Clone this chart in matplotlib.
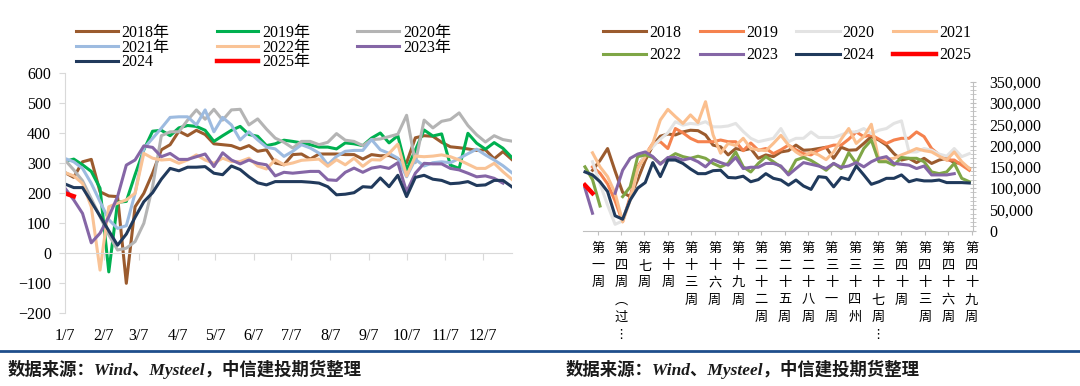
import matplotlib
matplotlib.use("Agg")
import matplotlib.pyplot as plt
from matplotlib.lines import Line2D
from matplotlib.ticker import MultipleLocator, FuncFormatter
import numpy as np
import pandas as pd

nan = np.nan
plt.rcParams['font.family'] = ['Liberation Serif', 'Noto Sans CJK SC', 'DejaVu Sans']

# ---- left chart: weekly values, one list per year ----
left_years = ['2018年', '2019年', '2020年', '2021年', '2022年', '2023年', '2024', '2025年']
left_colors = ['#9b5b2e', '#00b050', '#b4b4b4', '#9dbbe0', '#f9c396', '#8566a6', '#213a5c', '#ff0000']

L2018 = [267, 251, 303, 311, 203, 189, 187, -102, 153, 198, 265, 343, 360, 405, 390, 408, 394, 363, 360, 357,
         346, 357, 338, 343, 299, 293, 327, 329, 312, 329, 329, 329, 327, 327, 312, 327, 323, 324, 312, 300,
         383, 390, 388, 368, 353, 350, 346, 341, 343, 313, 337, 311]
L2019 = [304, 312, 293, 271, 215, -64, 168, 171, 260, 343, 405, 408, 390, 416, 424, 421, 408, 371, 390, 408,
         421, 394, 388, 357, 363, 375, 371, 366, 360, 352, 352, 346, 366, 363, 357, 382, 399, 366, 390, 276,
         342, 409, 389, 396, 292, 281, 398, 365, 345, 367, 348, 318]
L2020 = [309, 276, 240, 180, 120, 60, 9, 15, 37, 98, 220, 390, 403, 403, 442, 476, 445, 478, 442, 476,
         478, 426, 446, 412, 382, 368, 349, 371, 371, 360, 368, 397, 375, 371, 357, 377, 379, 387, 395, 458,
         300, 442, 416, 438, 444, 466, 424, 393, 369, 390, 377, 372]
L2021 = [314, 303, 281, 231, 170, 110, 81, 90, 198, 348, 381, 415, 451, 453, 453, 426, 476, 403, 451, 426,
         376, 403, 376, 352, 346, 321, 338, 360, 349, 332, 293, 321, 338, 341, 341, 377, 343, 331, 315, 253,
         311, 289, 300, 303, 300, 314, 330, 345, 326, 309, 290, 267]
L2022 = [267, 256, 231, 153, -58, 153, 165, 176, 198, 331, 315, 309, 311, 298, 309, 326, 309, 298, 315, 304,
         304, 315, 289, 279, 310, 293, 299, 308, 310, 312, 288, 310, 293, 315, 288, 310, 309, 331, 362, 256,
         322, 320, 322, 326, 320, 309, 295, 281, 281, 298, 270, 245]
L2023 = [215, 176, 131, 33, 65, 120, 187, 292, 309, 356, 351, 320, 331, 311, 311, 320, 329, 287, 333, 309,
         296, 309, 298, 293, 256, 268, 265, 268, 271, 271, 243, 241, 268, 282, 268, 282, 287, 281, 300, 203,
         265, 298, 296, 296, 281, 276, 265, 253, 256, 248, 232, nan]
L2024 = [229, 217, 217, 170, 122, 73, 25, 62, 118, 170, 200, 245, 281, 273, 285, 285, 287, 265, 260, 289,
         277, 253, 233, 226, 237, 237, 237, 237, 235, 232, 220, 193, 195, 200, 220, 218, 249, 220, 258, 187,
         251, 258, 245, 241, 230, 232, 237, 224, 226, 241, 241, 220]
L2025 = [198, 188]
left_series = [L2018, L2019, L2020, L2021, L2022, L2023, L2024, L2025]

# ---- right chart: weekly values in thousands ----
right_years = ['2018', '2019', '2020', '2021', '2022', '2023', '2024', '2025']
right_colors = ['#9b5b2e', '#f5824e', '#e3e3e3', '#fbbf8e', '#7fa646', '#8566a6', '#203a5c', '#ff0000']

R2018 = [nan, 142, 165, 193, 140, 90, 80, 120, 165, 200, 222, 227, 225, 232, 236, 235, 225, 201, 197, 178,
         193, 189, 193, 170, 178, 174, 185, 188, 201, 189, 190, 193, 196, 170, 196, 189, 190, 205, 221, 213,
         201, 181, 166, 170, 160, 170, 158, 166, 170, 160, 158, 146]
R2019 = [nan, 150, 135, 110, 70, 21, 80, 150, 178, 205, 209, 193, 240, 230, 217, 209, 209, 209, 213, 209,
         209, 188, 206, 189, 193, 181, 190, 201, 190, 181, 178, 189, 196, 201, 201, 215, 232, 221, 225, 215,
         205, 213, 217, 217, 232, 221, 193, 178, 166, 166, 154, 142]
R2020 = [nan, 162, 110, 60, 15, 23, 72, 142, 182, 197, 215, 230, 256, 248, 252, 250, 256, 244, 244, 246,
         252, 233, 217, 209, 213, 217, 240, 209, 217, 217, 232, 219, 219, 219, 225, 232, 232, 240, 228, 236,
         240, 252, 258, 185, 185, 193, 189, 180, 175, 193, 174, 181]
R2021 = [nan, 183, 150, 127, 88, 21, 72, 146, 174, 205, 260, 285, 268, 252, 272, 254, 303, 225, 182, 205,
         200, 217, 193, 190, 188, 205, 224, 201, 185, 174, 185, 178, 167, 185, 215, 240, 205, 221, 250, 166,
         168, 170, 178, 185, 193, 188, 185, 175, 166, 185, 162, 146]
R2022 = [150, 120, 58, nan, nan, 80, 103, 174, 178, 172, 158, 170, 181, 174, 170, 175, 170, 158, 150, 158,
         185, 150, 138, 158, 174, 162, 150, 134, 166, 172, 165, 154, 142, 158, 146, 183, 158, 193, 213, 162,
         162, 154, 172, 170, 170, 162, 138, 134, 138, 158, 123, 115]
R2023 = [100, 41, nan, nan, 88, 142, 170, 180, 185, 174, 156, 172, 172, 166, 170, 162, 150, 167, 160, 154,
         172, 146, 149, 149, 158, 158, 152, 131, 146, 160, 156, 152, 146, 158, 149, 152, 160, 150, 162, 170,
         174, 158, 156, 154, 146, 152, 131, 131, 131, 134, nan, nan]
R2024 = [138, 131, 115, 92, 35, 27, 72, 100, 113, 160, 127, 166, 166, 158, 145, 134, 134, 141, 142, 125,
         124, 128, 115, 120, 134, 123, 119, 107, 119, 105, 97, 127, 125, 103, 125, 120, 152, 131, 109, 115,
         123, 123, 131, 115, 120, 117, 117, 119, 113, 113, 113, 112]
R2025 = [107, 88]
right_series = [R2018, R2019, R2020, R2021, R2022, R2023, R2024, R2025]

week_labels = ['第一周', '第四周︵过⋮', '第七周', '第十周', '第十三周', '第十六周', '第十九周',
               '第二十二周', '第二十五周', '第二十八周', '第三十一周', '第三十四州', '第三十七周⋮',
               '第四十周', '第四十三周', '第四十六周', '第四十九周']

for s in left_series[:-1] + right_series[:-1]:
    assert len(s) == 52, len(s)

month_days = [pd.Timestamp(2023, m, 7).dayofyear for m in range(1, 13)]
month_labels = [f'{m}/7' for m in range(1, 13)]
days = 7 + 7 * np.arange(52)
weeks = np.arange(52)

fig = plt.figure(figsize=(10.8, 3.86), dpi=100)
W, H = 1080, 386
grey = '#d9d9d9'
fs = 11.5
legfont = {'family': ['Liberation Serif', 'Noto Sans CJK SC'], 'size': fs}

# ---------------- left ----------------
ax1 = fig.add_axes([65 / W, 1 - 312.7 / H, 446.7 / W, 240 / H])
hl = []
for name, vals, c in zip(left_years, left_series, left_colors):
    lw = 3.2 if name.startswith('2025') else 2.2
    ln, = ax1.plot(days[:len(vals)], vals, color=c, lw=lw, label=name)
    hl.append(ln)
ax1.set_xlim(7, 364)
ax1.set_ylim(-200, 600)
ax1.set_yticks(range(-200, 601, 100))
for sp in ['top', 'right']:
    ax1.spines[sp].set_visible(False)
ax1.spines['left'].set_color(grey)
ax1.spines['bottom'].set_color(grey)
ax1.spines['bottom'].set_position(('data', 0))
ax1.tick_params(axis='y', length=4, color=grey, labelsize=fs, pad=6)
ax1.set_xticks(month_days)
ax1.tick_params(axis='x', length=5, color=grey, labelbottom=False)
sec = ax1.secondary_xaxis('bottom')
sec.set_xticks(month_days, labels=month_labels)
sec.tick_params(length=0, pad=11, labelsize=fs)
sec.spines['bottom'].set_visible(False)

order1 = [0, 3, 6, 1, 4, 7, 2, 5]
ax1.legend([hl[i] for i in order1], [left_years[i] for i in order1], ncol=3, loc='upper left',
           bbox_to_anchor=(76 / W, 1 - 25 / H), bbox_transform=fig.transFigure, frameon=False,
           prop=legfont, handlelength=2.6, handletextpad=0.25, columnspacing=2.95,
           labelspacing=-0.08, borderpad=0, borderaxespad=0)

# ---------------- right ----------------
ax2 = fig.add_axes([582.7 / W, 1 - 230.7 / H, 390.6 / W, 149 / H])
hr = []
for name, vals, c in zip(right_years, right_series, right_colors):
    lw = 3.2 if name == '2025' else 2.2
    ln, = ax2.plot(weeks[:len(vals)], np.array(vals, dtype=float) * 1000, color=c, lw=lw, label=name)
    hr.append(ln)
ax2.set_xlim(-0.3, 51.53)
ax2.set_ylim(0, 350000)
ax2.yaxis.tick_right()
for sp in ['top', 'left']:
    ax2.spines[sp].set_visible(False)
ax2.spines['right'].set_color('#bfbfbf')
ax2.spines['bottom'].set_color('#bfbfbf')
ax2.set_yticks(range(0, 350001, 50000))
ax2.yaxis.set_major_formatter(FuncFormatter(lambda v, p: f'{int(v):,}'))
ax2.yaxis.set_minor_locator(MultipleLocator(10000))
ax2.tick_params(axis='y', which='major', direction='inout', length=5, color='#bfbfbf', labelsize=fs, pad=9)
ax2.tick_params(axis='y', which='minor', direction='inout', length=4, color='#bfbfbf')
label_pos = 1.7 + 3.1 * np.arange(len(week_labels))
ax2.set_xticks(label_pos)
ax2.set_xticklabels(['\n'.join(s) for s in week_labels], fontsize=9.5, linespacing=1.42,
                    family=['Noto Sans CJK SC', 'DejaVu Sans'], va='top')
ax2.tick_params(axis='x', length=3, color='#bfbfbf', pad=5)

order2 = [0, 4, 1, 5, 2, 6, 3, 7]
ax2.legend([hr[i] for i in order2], [right_years[i] for i in order2], ncol=4, loc='upper left',
           bbox_to_anchor=(603 / W, 1 - 25 / H), bbox_transform=fig.transFigure, frameon=False,
           prop=legfont, handlelength=2.7, handletextpad=0.2, columnspacing=1.15,
           labelspacing=0.4, borderpad=0, borderaxespad=0)

# ---------------- footer ----------------
fig.add_artist(Line2D([0, 1], [1 - 351 / H, 1 - 351 / H], transform=fig.transFigure,
                      color='#1f4e8c', lw=2))
src = '数据来源：Wind、Mysteel，中信建投期货整理'
for x in (8, 566):
    fig.text(x / W, 1 - 369 / H, src, fontsize=12.5, fontweight='bold', style='italic',
             family=['Liberation Serif', 'Noto Sans CJK SC'], va='center', ha='left', color='#1a1a1a')

fig.savefig('out.png', dpi=100)
